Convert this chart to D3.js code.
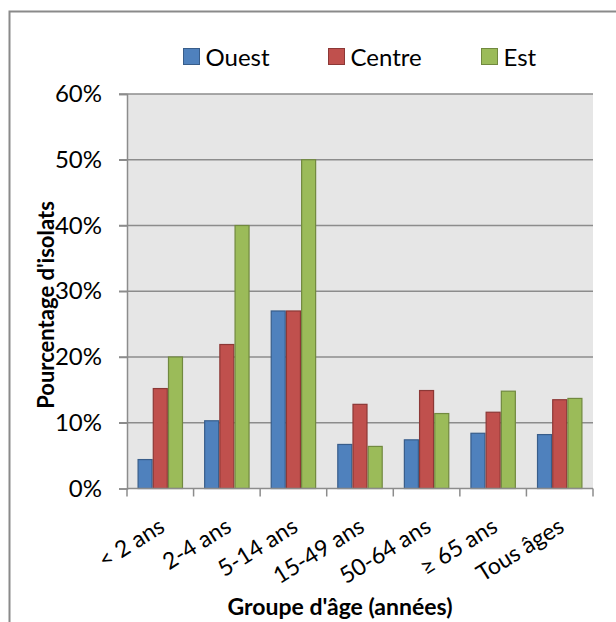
<!DOCTYPE html>
<html>
<head>
<meta charset="utf-8">
<script src="https://cdn.jsdelivr.net/npm/d3@7"></script>
<style>
  html, body { margin: 0; padding: 0; background: #fff; }
  svg { display: block; font-family: Lato, "Open Sans", sans-serif; }
</style>
</head>
<body>
<svg id="chart" width="616" height="622"></svg>
<script>
// Age groups and the share of isolates per region (percent)
const categories = ["< 2 ans", "2-4 ans", "5-14 ans", "15-49 ans", "50-64 ans", "\u2265 65 ans", "Tous \u00e2ges"];
const seriesNames = ["Ouest", "Centre", "Est"];
const ouest  = [4.4, 10.3, 27, 6.7, 7.4, 8.4, 8.2];
const centre = [15.2, 21.9, 27, 12.8, 14.9, 11.6, 13.5];
const est    = [20, 40, 50, 6.4, 11.4, 14.8, 13.7];
const yTicks = [0, 10, 20, 30, 40, 50, 60];

const fills   = ["#4F81BD", "#C0504D", "#9BBB59"];
const strokes = ["#385D8A", "#8C3836", "#71893F"];
const seriesValues = [ouest, centre, est];

const svg = d3.select("#chart");
const plot = { left: 127, right: 593, top: 94, bottom: 488.5 };
const axisColor = "#8c8c8c";

// Outer chart frame
svg.append("rect")
  .attr("x", 9.5).attr("y", 11.5)
  .attr("width", 800).attr("height", 800)
  .attr("fill", "none").attr("stroke", "#8a8a8a").attr("stroke-width", 2);

const x = d3.scaleBand().domain(categories).range([plot.left, plot.right]);
const y = d3.scaleLinear().domain([0, 60]).range([plot.bottom, plot.top]);
const xs = d3.scaleBand().domain(seriesNames).range([0, x.bandwidth()]).paddingInner(0).paddingOuter(0.69);

// Plot background
svg.append("rect")
  .attr("x", plot.left).attr("y", plot.top)
  .attr("width", plot.right - plot.left).attr("height", plot.bottom - plot.top)
  .attr("fill", "#E6E6E6");

// Horizontal gridlines
svg.append("g").selectAll("line").data(yTicks.filter(d => d > 0)).join("line")
  .attr("x1", plot.left - 8).attr("x2", plot.right)
  .attr("y1", d => y(d)).attr("y2", d => y(d))
  .attr("stroke", axisColor).attr("stroke-width", 1.5);

// Bars
const groups = svg.append("g").selectAll("g").data(categories).join("g")
  .attr("transform", d => `translate(${x(d)},0)`);
groups.selectAll("rect")
  .data((c, i) => seriesNames.map((s, k) => ({ s, k, v: seriesValues[k][i] })))
  .join("rect")
  .attr("x", d => xs(d.s) + 0.6)
  .attr("width", xs.bandwidth() - 1.2)
  .attr("y", d => y(d.v))
  .attr("height", d => y(0) - y(d.v))
  .attr("fill", d => fills[d.k])
  .attr("stroke", d => strokes[d.k])
  .attr("stroke-width", 1.2);

// Y axis
const yAxis = svg.append("g")
  .attr("transform", `translate(${plot.left},0)`)
  .call(d3.axisLeft(y).tickValues(yTicks).tickFormat(d => d + "%").tickSize(8).tickPadding(17));
yAxis.select(".domain").attr("stroke", axisColor).attr("stroke-width", 1.5);
yAxis.selectAll(".tick line").attr("stroke", axisColor).attr("stroke-width", 1.5);
yAxis.selectAll(".tick text").attr("font-size", 24).attr("fill", "#000").attr("font-family", "Lato, sans-serif");

// X axis with ticks at category boundaries
const xAxis = svg.append("g").attr("transform", `translate(0,${plot.bottom})`);
xAxis.append("line")
  .attr("x1", plot.left).attr("x2", plot.right)
  .attr("stroke", axisColor).attr("stroke-width", 1.5);
const boundaries = categories.map(c => x(c)).concat([plot.right]);
xAxis.selectAll("line.tk").data(boundaries).join("line").attr("class", "tk")
  .attr("x1", d => d).attr("x2", d => d).attr("y1", 0).attr("y2", 8)
  .attr("stroke", axisColor).attr("stroke-width", 1.5);
xAxis.selectAll("text").data(categories).join("text")
  .attr("transform", d => `translate(${x(d) + x.bandwidth() / 2 + 6},${42}) rotate(-32)`)
  .attr("text-anchor", "end")
  .attr("font-size", 23)
  .text(d => d);

// Axis titles
svg.append("text")
  .attr("transform", "translate(54,305) rotate(-90)")
  .attr("text-anchor", "middle")
  .attr("font-size", 22).attr("font-weight", "bold")
  .text("Pourcentage d'isolats");
svg.append("text")
  .attr("x", 340).attr("y", 615)
  .attr("text-anchor", "middle")
  .attr("font-size", 23).attr("font-weight", "bold")
  .text("Groupe d'\u00e2ge (ann\u00e9es)");

// Legend
const legendX = [183.5, 328.5, 481.5];
const legend = svg.append("g").selectAll("g").data(seriesNames).join("g")
  .attr("transform", (d, i) => `translate(${legendX[i]},48.5)`);
legend.append("rect")
  .attr("width", 16).attr("height", 16)
  .attr("fill", (d, i) => fills[i]).attr("stroke", (d, i) => strokes[i]).attr("stroke-width", 1);
legend.append("text")
  .attr("x", 22).attr("y", 17)
  .attr("font-size", 24)
  .text(d => d);
</script>
</body>
</html>
